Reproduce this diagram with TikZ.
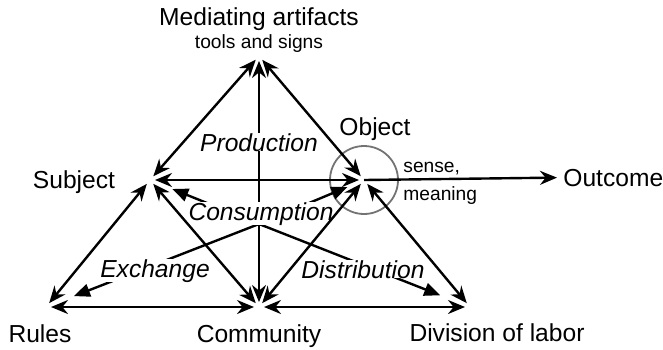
\documentclass[tikz,border=0pt]{standalone}
\usepackage{fontspec}
\setmainfont{Liberation Sans}
\usetikzlibrary{arrows.meta}

\begin{document}
\begin{tikzpicture}[x=0.5pt,y=-0.5pt,
		edge/.style={line width=1.2pt,{Stealth[length=8.5pt,width=7pt,inset=2.8pt]}-{Stealth[length=8.5pt,width=7pt,inset=2.8pt]},shorten <=2.5pt,shorten >=2.5pt},
		hub/.style={line width=1.2pt,-{Triangle[length=8pt,width=6.5pt]}},
		lbl/.style={font=\fontsize{12.3}{14}\selectfont,inner sep=0pt,anchor=base},
		act/.style={lbl,font=\fontsize{12.3}{14}\selectfont\itshape,fill=white},
		small/.style={font=\fontsize{9.6}{11}\selectfont,inner sep=0pt,anchor=base}]
		\useasboundingbox (0,0) rectangle (663,349);

		% corners
		\coordinate (m) at (259,56);
		\coordinate (s) at (150,180);
		\coordinate (o) at (364,180);
		\coordinate (r) at (46,307);
		\coordinate (c) at (259,307);
		\coordinate (d) at (470,307);
		\coordinate (h) at (259,224);

		% names of the corners
		\node[lbl] (artifacts) at (259,25) {Mediating artifacts};
		\node[small] (tools) at (259,48) {tools and signs};
		\node[lbl] (subject) at (74,188) {Subject};
		\node[lbl] (object) at (375,135) {Object};
		\node[lbl,anchor=base west] (outcome) at (563,186) {Outcome};
		\node[small,anchor=base west] (sense) at (403,172) {sense,};
		\node[small,anchor=base west] (meaning) at (403,200) {meaning};
		\node[lbl] (rules) at (40,342) {Rules};
		\node[lbl] (community) at (259,342) {Community};
		\node[lbl] (labor) at (497,341) {Division of labor};

		\draw[black!55,line width=0.9pt] (o) circle[radius=17pt];

		\draw[edge] (m) -- (c);
		\draw[hub,shorten >=12pt] (h) -- (s);
		\draw[hub,shorten >=9pt] (h) -- (o);
		\draw[hub,shorten >=15pt] (h) -- (r);
		\draw[hub,shorten >=16pt] (h) -- (d);

		\node[act] (production) at (259,151) {Production};
		\node[act] (consumption) at (261,220) {Consumption};
		\node[act] (exchange) at (155,277) {Exchange};
		\node[act] (distribution) at (363,278) {Distribution};

		\draw[edge] (s) -- (m);
		\draw[edge] (m) -- (o);
		\draw[edge] (s) -- (o);
		\draw[edge] (s) -- (r);
		\draw[edge] (s) -- (c);
		\draw[edge] (o) -- (c);
		\draw[edge] (o) -- (d);
		\draw[edge] (r) -- (c);
		\draw[edge] (c) -- (d);
		\draw[line width=1.2pt,-{Stealth[length=8.5pt,width=7pt,inset=2.8pt]},shorten >=3pt] (o) -- (outcome.west);
	\end{tikzpicture}
\end{document}
